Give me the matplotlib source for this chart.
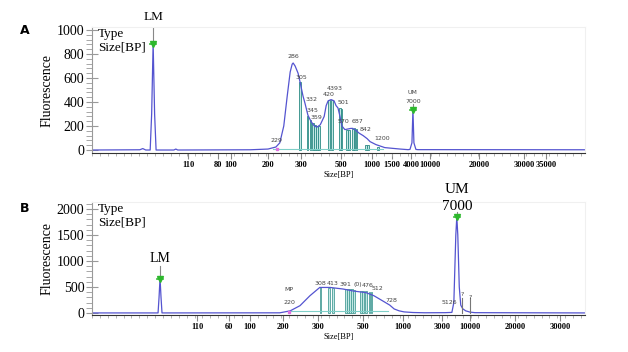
import matplotlib.pyplot as plt
import numpy as np

plt.rcParams['font.family'] = ['Liberation Serif', 'DejaVu Serif']

# ---------------- panel A data (x = migration position, % of run) ----------------
a_pos = [0, 9.7, 10.3, 10.9, 11.8, 12.1, 12.4, 12.7, 13.0, 16.6, 17.0, 17.4, 32.1, 35.7,
         37.3, 38.1, 38.9, 39.6, 40.2, 40.6, 40.8, 41.2, 41.8, 42.2, 42.8, 43.2, 43.8, 44.4,
         45.0, 45.6, 46.3, 47.1, 47.5, 47.9, 48.5, 49.1, 49.5, 49.9, 50.3, 50.7, 51.3, 51.9,
         52.5, 52.9, 53.5, 54.2, 55.0, 55.8, 56.4, 57.6, 59.4, 62.5, 64.1, 64.5, 64.9, 65.1,
         65.3, 65.7, 66.1, 68.6, 100]
a_fluo = [0, 2, 12, 0, 0, 300, 890, 300, 0, 0, 8, 0, 2, 8,
          25, 60, 200, 450, 650, 715, 725, 700, 640, 567, 450, 390, 290, 240,
          205, 190, 210, 280, 370, 410, 420, 410, 370, 350, 280, 200, 170, 175,
          180, 180, 165, 140, 120, 95, 70, 45, 20, 8, 3, 5, 60, 335,
          60, 5, 3, 3, 2]
a_peak_pos = [42.2, 43.7, 44.3, 44.8, 45.2, 45.6, 46.0, 48.1, 48.7, 50.3, 50.6,
              51.7, 52.1, 52.9, 53.3, 53.7, 55.6, 56.0, 58.0]
a_peak_h = [567, 285, 250, 225, 207, 200, 200, 415, 418, 350, 340,
            168, 170, 178, 180, 175, 42, 40, 22]
a_labels = ['229', '286', '305', '332', '345', '359', '420', '4393', '501', '570', '687', '842', '1200']
a_label_pos = [37.5, 40.8, 42.4, 44.5, 44.7, 45.6, 48.0, 49.2, 50.9, 51.1, 53.8, 55.4, 58.8]
a_label_val = [60, 760, 580, 400, 305, 250, 440, 490, 375, 220, 215, 150, 75]
a_xtick_pos = [19.5, 25.6, 28.2, 35.7, 42.4, 50.5, 56.8, 60.9, 64.7, 68.6, 78.5, 87.6, 92.1]
a_xtick_lab = ['110', '80', '100', '200', '300', '500', '1000', '1500', '4000', '10000', '20000', '30000', '35000']
a_lm = (12.4, 885)
a_um = (65.1, 335)

# ---------------- panel B data ----------------
b_pos = [0, 13.4, 13.6, 13.8, 14.0, 14.2, 38.1, 40.2, 42.2, 44.2, 46.2, 48.3, 50.9, 53.1,
         55.6, 57.2, 58.9, 60.4, 61.3, 62.3, 63.3, 65.1, 67.5, 71.6, 73.0, 73.4, 73.8, 74.0,
         74.2, 74.5, 74.8, 75.2, 75.8, 76.7, 77.7, 100]
b_fluo = [0, 0, 300, 670, 300, 0, 2, 40, 140, 330, 490, 490, 460, 420,
          390, 330, 235, 150, 76, 40, 20, 8, 3, 5, 10, 200, 1500, 1850,
          1500, 500, 150, 80, 40, 15, 5, 0]
b_peak_pos = [46.4, 48.1, 48.9, 51.5, 51.9, 52.3, 52.7, 53.1, 54.6, 55.0, 55.6, 56.3, 56.7]
b_peak_h = [490, 488, 485, 465, 462, 460, 455, 450, 430, 425, 415, 405, 400]
b_labels = ['MP', '220', '308', '413', '391', '(0)', '476', '512', '728', '5126', '?', '?']
b_label_pos = [40.0, 40.0, 46.3, 48.8, 51.5, 54.0, 56.0, 57.9, 60.8, 72.4, 75.2, 76.7]
b_label_val = [400, 160, 510, 520, 500, 500, 480, 430, 190, 160, 300, 250]
b_xtick_pos = [21.3, 27.8, 32.0, 38.7, 45.8, 55.0, 63.1, 71.0, 76.7, 85.8, 94.9]
b_xtick_lab = ['110', '60', '100', '200', '300', '500', '1000', '3000', '10000', '20000', '30000']
b_lm = (13.8, 660)
b_um = (74.0, 1840)

line_c = '#5454d0'
bar_c = '#2a8a84'
fill_c = '#c4e8e5'


def style_axes(ax, ylim, yminor, xpos, xlab):
    ax.set_xlim(0, 100)
    ax.set_ylim(*ylim)
    for s in ['top', 'right']:
        ax.spines[s].set_color('#f0f0f0')
    ax.spines['left'].set_color('#999999')
    ax.spines['bottom'].set_color('#333333')
    ax.set_yticks(np.arange(0, ylim[1], yminor), minor=True)
    ax.tick_params(axis='y', which='major', direction='inout', length=9, color='#999999',
                   labelsize=10, pad=1)
    ax.tick_params(axis='y', which='minor', direction='out', length=4, color='#999999')
    ax.set_xticks(xpos)
    ax.set_xticklabels(xlab, fontweight='bold')
    ax.set_xticks(np.arange(0, 100, 1.6), minor=True)
    ax.tick_params(axis='x', which='major', length=4, color='#888888', labelsize=6, pad=2)
    ax.tick_params(axis='x', which='minor', length=2, color='#aaaaaa')
    ax.set_ylabel('Fluorescence', fontsize=10, labelpad=2)
    ax.set_xlabel('Size[BP]', fontsize=6, labelpad=1)
    ax.text(0.012, 0.99, 'Type\nSize[BP]', transform=ax.transAxes, fontsize=9.5,
            va='top', ha='left', linespacing=1.1)


def draw_marker(ax, pos, val, top):
    ax.plot([pos, pos], [val, top], color='#888888', lw=0.8)
    ax.plot(pos, val, marker='v', color='#2db82d', ms=4)
    ax.plot([pos - 0.6, pos + 0.6], [val, val], color='#2db82d', lw=1.2)


def small(ax, x, y, t, va='bottom'):
    ax.text(x, y, t, fontsize=4.5, family='DejaVu Sans', color='#444444', ha='center', va=va)


fig = plt.figure(figsize=(6.28, 3.52), dpi=100)
axA = fig.add_axes([0.1465, 0.5653, 0.785, 0.358])
axB = fig.add_axes([0.1465, 0.1051, 0.785, 0.321])

# panel A
axA.plot([36.7, 59.0], [5, 5], color='#7fcfc8', lw=0.8)
for p, h in zip(a_peak_pos, a_peak_h):
    axA.bar(p, h, width=0.3, color=fill_c, edgecolor=bar_c, lw=0.6)
axA.plot(a_pos, a_fluo, color=line_c, lw=0.9)
axA.plot(37.5, 5, marker='s', color='#e070e0', ms=2)
for t, p, v in zip(a_labels, a_label_pos, a_label_val):
    small(axA, p, v, t)
draw_marker(axA, a_lm[0], a_lm[1], 1025)
axA.text(a_lm[0], 1108, 'LM', fontsize=9.5, ha='center', va='center', clip_on=False)
draw_marker(axA, a_um[0], a_um[1], 380)
small(axA, a_um[0], 408, '7000', va='center')
small(axA, a_um[0], 483, 'UM', va='center')
style_axes(axA, (-25, 1025), 40, a_xtick_pos, a_xtick_lab)
axA.set_yticks([0, 200, 400, 600, 800, 1000])

# panel B
axB.plot([40.0, 60.0], [40, 40], color='#7fcfc8', lw=0.8)
for p, h in zip(b_peak_pos, b_peak_h):
    axB.bar(p, h, width=0.3, color=fill_c, edgecolor='#4a9e98', lw=0.6)
axB.plot(b_pos, b_fluo, color=line_c, lw=0.9)
axB.plot(40.0, 10, marker='s', color='#e070e0', ms=2)
for t, p, v in zip(b_labels, b_label_pos, b_label_val):
    small(axB, p, v, t)
for p in [75.0, 76.6]:
    axB.plot([p, p], [0, 290], color='#777777', lw=0.8)
draw_marker(axB, b_lm[0], b_lm[1], 895)
axB.text(b_lm[0], 1050, 'LM', fontsize=10, ha='center', va='center')
draw_marker(axB, b_um[0], b_um[1], 1950)
axB.text(b_um[0], 2040, '7000', fontsize=11, ha='center', va='center')
axB.text(b_um[0], 2380, 'UM', fontsize=11, ha='center', va='center', clip_on=False)
style_axes(axB, (-40, 2133), 100, b_xtick_pos, b_xtick_lab)
axB.set_yticks([0, 500, 1000, 1500, 2000])

fig.text(20 / 628, 1 - 30 / 352, 'A', fontsize=9, fontweight='bold', family='DejaVu Sans',
         ha='left', va='center')
fig.text(20 / 628, 1 - 208 / 352, 'B', fontsize=9, fontweight='bold', family='DejaVu Sans',
         ha='left', va='center')

fig.savefig('out.png', dpi=100)
